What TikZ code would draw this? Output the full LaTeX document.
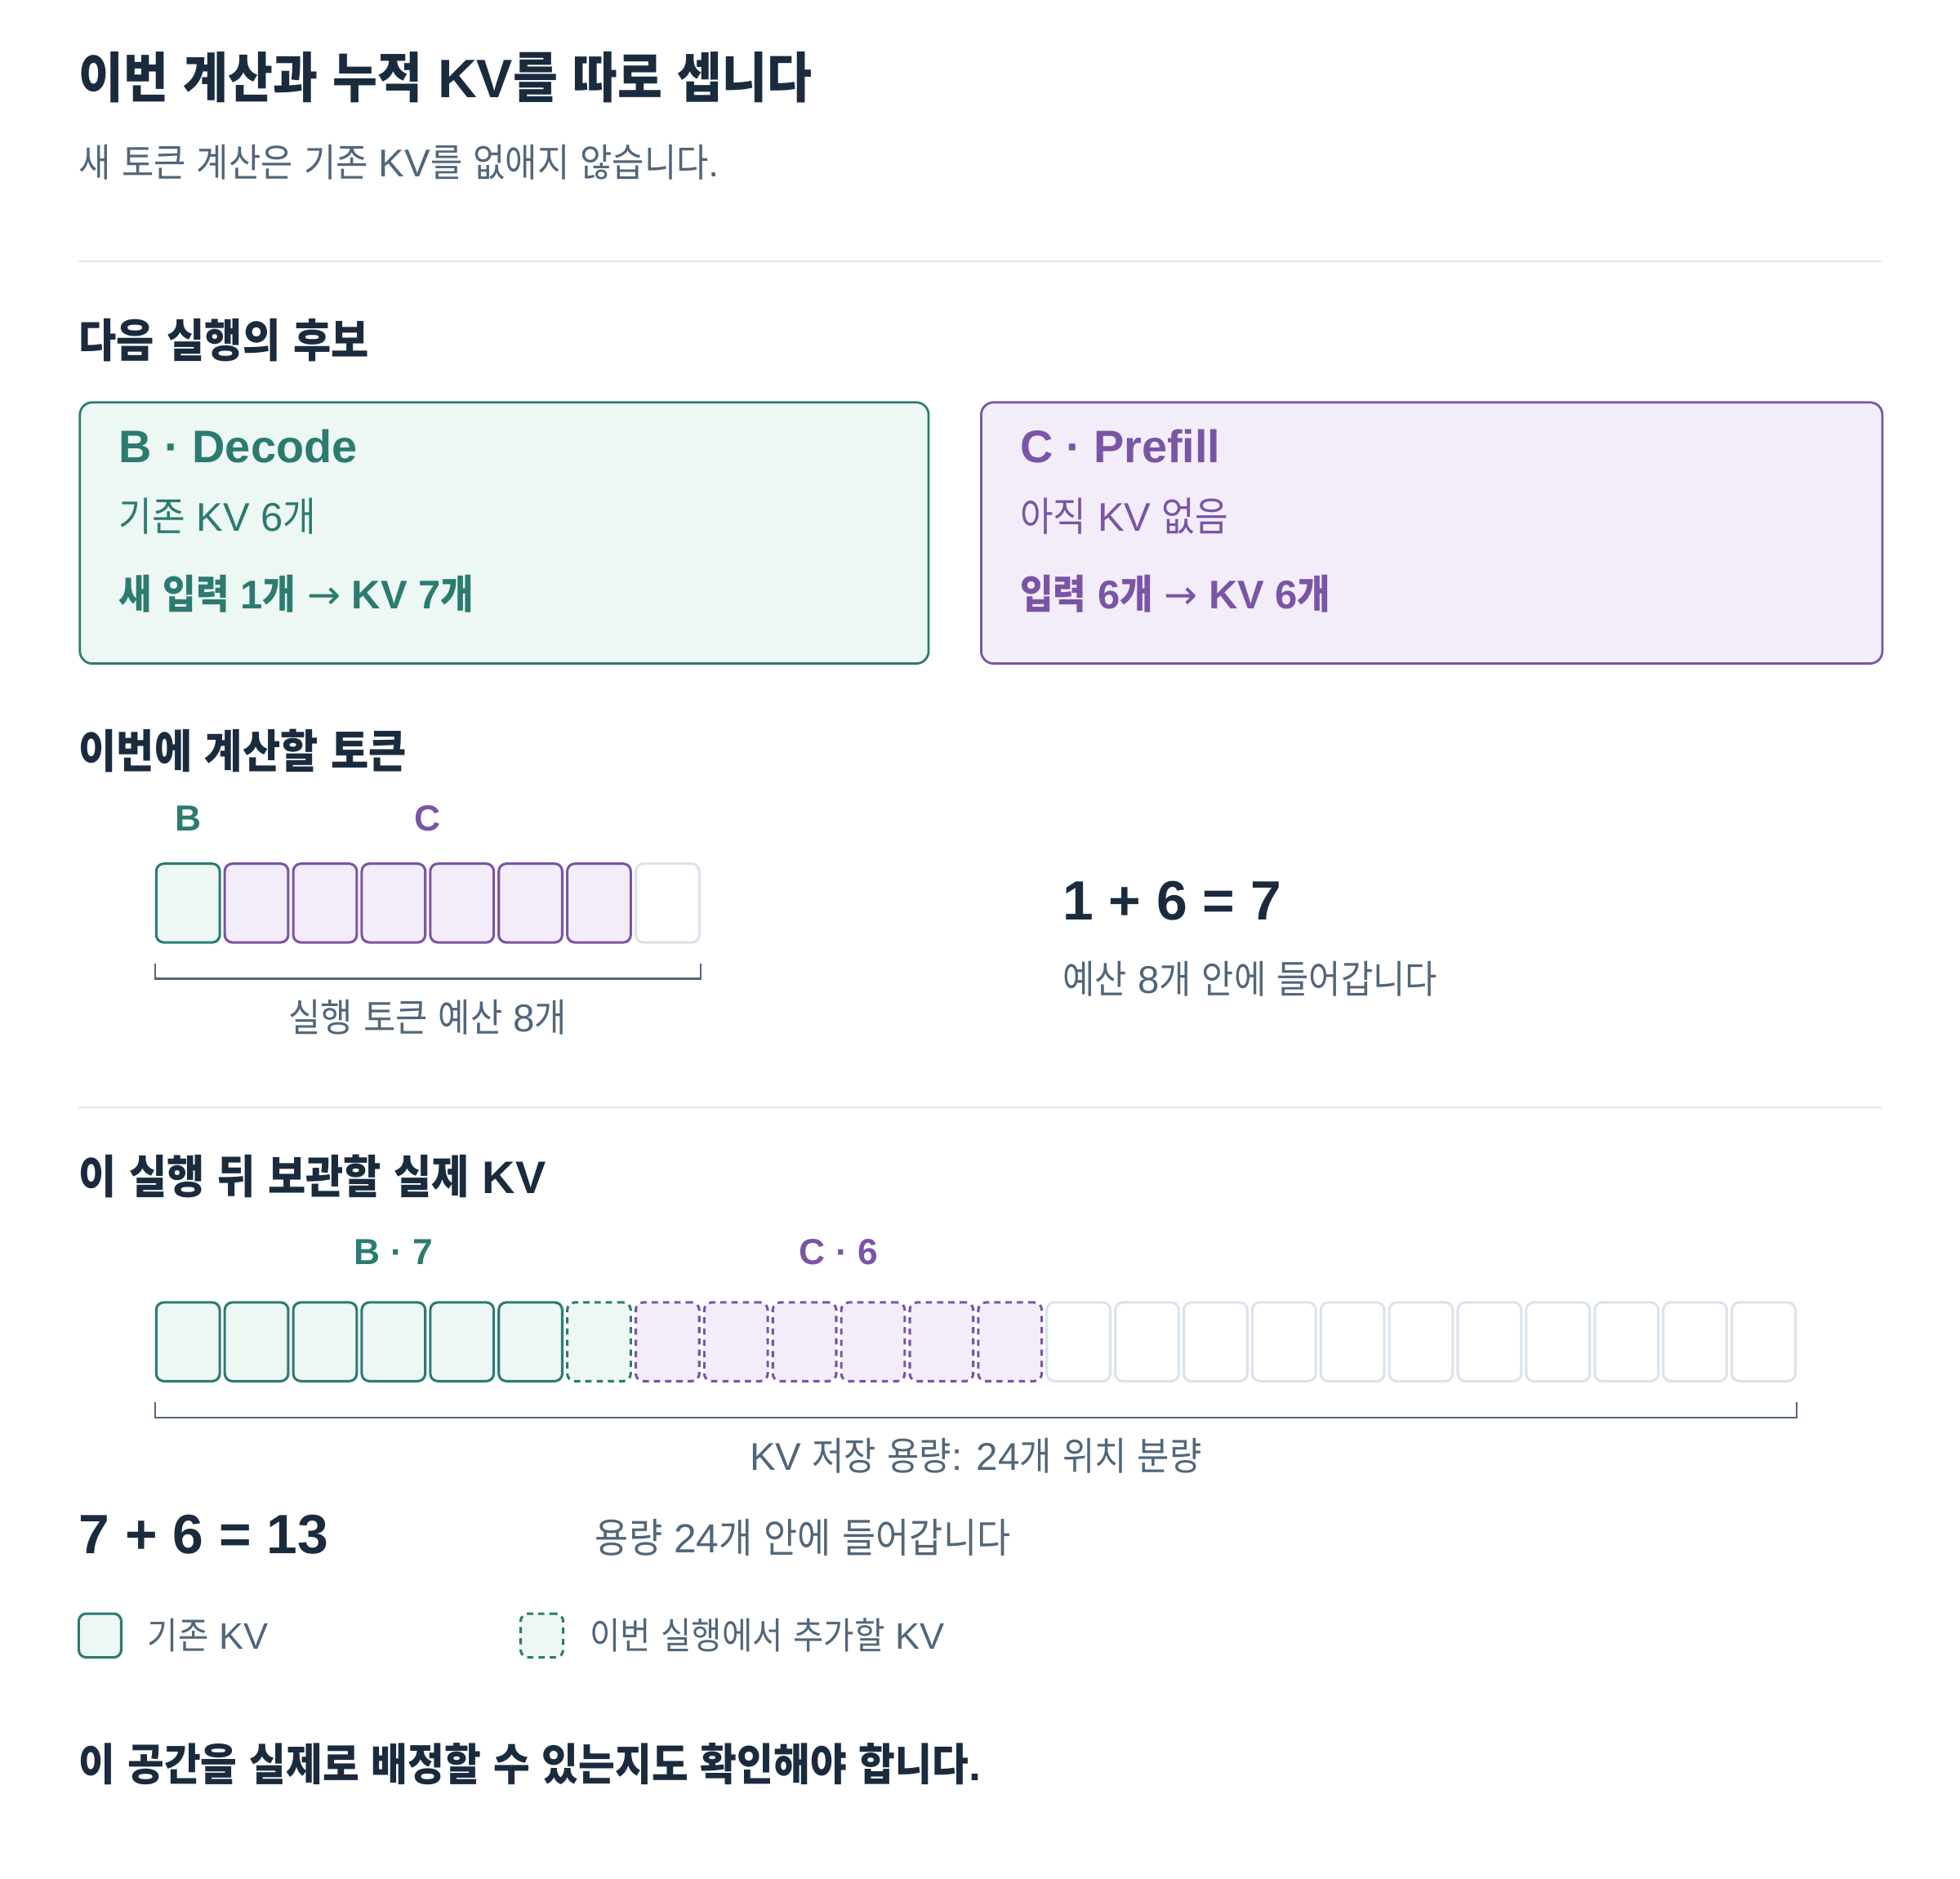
\documentclass[tikz,border=0pt]{standalone}
\usepackage{fontspec}
\usepackage{tikz}
\usetikzlibrary{positioning,calc}
\setmainfont{Liberation Sans}
\newfontfamily\hangulfont{Noto Sans CJK KR}[FakeStretch=0.9]
\newfontfamily\arrowfont{DejaVu Sans}
% hangul syllables go to the CJK family, the rest stays Latin
\chardef\hangulclass=7
\newcount\hangulcode
\hangulcode="AC00
\loop
  \XeTeXcharclass\hangulcode=\hangulclass
  \ifnum\hangulcode<"D7A3 \advance\hangulcode by 1
\repeat
\XeTeXinterchartoks 0 \hangulclass = {\hangulfont}
\XeTeXinterchartoks 4095 \hangulclass = {\hangulfont}
\XeTeXinterchartoks \hangulclass 0 = {\rmfamily}
\XeTeXinterchartoks \hangulclass 4095 = {\rmfamily}
\XeTeXinterchartokenstate=1
\newcommand{\thinto}{{\arrowfont\mdseries →}}

\definecolor{ink}{RGB}{27,43,62}
\definecolor{slate}{RGB}{82,102,122}
\definecolor{decteal}{RGB}{43,123,112}
\definecolor{prepurple}{RGB}{122,85,165}
\definecolor{decfill}{RGB}{237,247,244}
\definecolor{prefill}{RGB}{243,237,249}
\definecolor{emptyline}{RGB}{219,227,236}
\definecolor{ruleline}{RGB}{226,232,240}

\begin{document}
\begin{tikzpicture}[x=1pt,y=1pt,
    heading/.style={anchor=west,inner sep=0pt,text=ink,font=\fontsize{36.5}{42}\selectfont\bfseries},
    note/.style={anchor=west,inner sep=0pt,text=slate,font=\fontsize{31}{36}\selectfont},
    caption/.style={inner sep=0pt,text=slate,font=\fontsize{31}{36}\selectfont},
    bigsum/.style={anchor=west,inner sep=0pt,text=ink,font=\fontsize{44.3}{52}\selectfont\bfseries},
    card/.style={draw,line width=1.8pt,rounded corners=10pt,minimum height=209pt,anchor=north west,inner sep=0pt},
    cardtitle/.style={anchor=west,inner sep=0pt,font=\fontsize{36.5}{42}\selectfont\bfseries},
    cardline/.style={anchor=west,inner sep=0pt,font=\fontsize{32}{38}\selectfont},
    cardbold/.style={anchor=west,inner sep=0pt,font=\fontsize{32}{38}\selectfont\bfseries},
    cell/.style={line width=2pt,rounded corners=6pt,minimum width=50.8pt,minimum height=63pt,inner sep=0pt},
    cellB/.style={cell,draw=decteal,fill=decfill},
    cellC/.style={cell,draw=prepurple,fill=prefill},
    cellBnew/.style={cellB,dash pattern=on 5pt off 4pt},
    cellCnew/.style={cellC,dash pattern=on 5pt off 4pt},
    cellfree/.style={cell,draw=emptyline,fill=white},
    brace/.style={draw=slate,line width=1.5pt},
    rowtag/.style={inner sep=0pt,font=\fontsize{29}{34}\selectfont\bfseries},
    ]
    \useasboundingbox (0,0) rectangle (1568,-1503);

    % title block
    \node[anchor=west,inner sep=0pt,text=ink,font=\fontsize{43.3}{52}\selectfont\bfseries] (title) at (63,-62) {이번 계산과 누적 KV를 따로 셉니다};
    \node[note] (subtitle) at (63,-130) {새 토큰 계산은 기존 KV를 없애지 않습니다.};
    \draw[ruleline,line width=1pt] (63,-209) -- (1505,-209);

    % next-run candidates
    \node[heading] (candhead) at (63,-272) {다음 실행의 후보};
    \node[card,draw=decteal,fill=decfill,minimum width=679pt] (cardB) at (63,-321) {};
    \node[card,draw=prepurple,fill=prefill,minimum width=721pt] (cardC) at (784,-321) {};
    \node[cardtitle,text=decteal] (cardBtitle) at ([shift={(32,-36)}]cardB.north west) {B · Decode};
    \node[cardline,text=decteal] (cardBold) at ([shift={(32,-92)}]cardB.north west) {기존 KV 6개};
    \node[cardbold,text=decteal] (cardBnew) at ([shift={(32,-154)}]cardB.north west) {새 입력 1개 \thinto{} KV 7개};
    \node[cardtitle,text=prepurple] (cardCtitle) at ([shift={(32,-36)}]cardC.north west) {C · Prefill};
    \node[cardline,text=prepurple] (cardCold) at ([shift={(32,-92)}]cardC.north west) {아직 KV 없음};
    \node[cardbold,text=prepurple] (cardCnew) at ([shift={(32,-154)}]cardC.north west) {입력 6개 \thinto{} KV 6개};

    % tokens of this run
    \node[heading] (tokhead) at (63,-601) {이번에 계산할 토큰};
    \node[cellB] (t1) at (150.4,-722.5) {};
    \foreach \i in {2,...,7}
        \node[cellC] (t\i) at ({150.4+(\i-1)*54.8},-722.5) {};
    \node[cellfree] (t8) at ({150.4+7*54.8},-722.5) {};
    \node[rowtag,text=decteal] (tagB) at ([yshift=35pt]t1.north) {B};
    \path ($(t2.north)!0.5!(t7.north)$) ++(0,35) node[rowtag,text=prepurple] (tagC) {C};
    \draw[brace] ([yshift=-16pt]t1.south west) -- ([yshift=-28pt]t1.south west)
        -- ([yshift=-28pt]t8.south east) -- ([yshift=-16pt]t8.south east);
    \path ($(t1.south west)!0.5!(t8.south east)$) ++(0,-59) node[caption] (tokcap) {실행 토큰 예산 8개};
    \node[bigsum] (toksum) at (850,-721) {1 + 6 = 7};
    \node[note] (tokfit) at (850,-783) {예산 8개 안에 들어갑니다};
    \draw[ruleline,line width=1pt] (63,-886) -- (1505,-886);

    % KV kept after the run
    \node[heading] (kvhead) at (63,-941) {이 실행 뒤 보관할 실제 KV};
    \foreach \i in {1,...,6}
        \node[cellB] (k\i) at ({150.4+(\i-1)*54.8},-1073.5) {};
    \node[cellBnew] (k7) at ({150.4+6*54.8},-1073.5) {};
    \foreach \i in {8,...,13}
        \node[cellCnew] (k\i) at ({150.4+(\i-1)*54.8},-1073.5) {};
    \foreach \i in {14,...,24}
        \node[cellfree] (k\i) at ({150.4+(\i-1)*54.8},-1073.5) {};
    \path ($(k1.north)!0.5!(k7.north)$) ++(0,39) node[rowtag,text=decteal] (kvtagB) {B · 7};
    \path ($(k8.north)!0.5!(k13.north)$) ++(0,39) node[rowtag,text=prepurple] (kvtagC) {C · 6};
    \draw[brace] ([yshift=-16pt]k1.south west) -- ([yshift=-28pt]k1.south west)
        -- ([yshift=-28pt]k24.south east) -- ([yshift=-16pt]k24.south east);
    \path ($(k1.south west)!0.5!(k24.south east)$) ++(0,-59) node[caption] (kvcap) {KV 저장 용량: 24개 위치 분량};
    \node[bigsum] (kvsum) at (63,-1228) {7 + 6 = 13};
    \node[note,font=\fontsize{32.5}{38}\selectfont] (kvfit) at (476,-1230) {용량 24개 안에 들어갑니다};

    % legend
    \node[cellB,minimum width=34pt,minimum height=35pt] (legold) at (80,-1308.5) {};
    \node[note,font=\fontsize{29.5}{34}\selectfont,right=20pt of legold] (legoldtxt) {기존 KV};
    \node[cellBnew,minimum width=34pt,minimum height=35pt] (legnew) at (433.5,-1308.5) {};
    \node[note,font=\fontsize{29.5}{34}\selectfont,right=20pt of legnew] (legnewtxt) {이번 실행에서 추가할 KV};

    \node[heading,font=\fontsize{35.3}{42}\selectfont\bfseries] (closing) at (63,-1411) {이 공간을 실제로 배정할 수 있는지도 확인해야 합니다.};
\end{tikzpicture}
\end{document}
